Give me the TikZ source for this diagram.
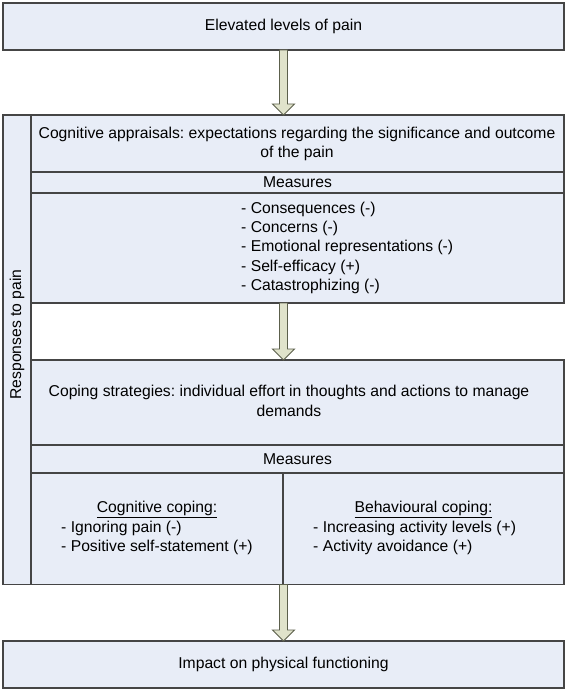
\documentclass[tikz,border=0pt]{standalone}
\usepackage{fontspec}
\setmainfont{Liberation Sans}
\usetikzlibrary{calc}
\frenchspacing
\definecolor{boxfill}{HTML}{E8EDF7}
\definecolor{boxline}{HTML}{454545}
\definecolor{arrfill}{HTML}{E0E3CB}
\definecolor{arrline}{HTML}{5C604C}
\tikzset{
  box/.style={draw=boxline, fill=boxfill, line width=1.3pt, inner sep=0pt, outer sep=0pt,
    font=\fontsize{15.7}{19.2}\selectfont},
  txt/.style={inner sep=0pt, font=\fontsize{15.7}{19.2}\selectfont},
  fatarrow/.style={draw=arrline, fill=arrfill, line width=0.9pt, line join=miter}
}
\newcommand{\fatarr}[2]{%
  \draw[fatarrow] let \p1=(#1), \p2=(#2) in
    (\x1-4pt,\y1) -- (\x1-4pt,\y2+11pt) -- (\x1-11pt,\y2+11pt) -- (\x1,\y2)
    -- (\x1+11pt,\y2+11pt) -- (\x1+4pt,\y2+11pt) -- (\x1+4pt,\y1) -- cycle;}
\begin{document}
\begin{tikzpicture}[x=1pt,y=1pt]
\useasboundingbox (0,0) rectangle (567,-692);
\fill[white] (0,0) rectangle (567,-692);

% boxes
\node[box, minimum width=561pt, minimum height=47pt] (top) at (283.5,-26.5) {Elevated levels of pain};
\node[box, minimum width=28pt, minimum height=469.5pt] (side) at (17,-349.75) {};
\node[txt, rotate=90] (sidetxt) at (17,-334.5) {Responses to pain};

\node[box, minimum width=533pt, minimum height=57pt] (cog) at (297.5,-143.5) {};
\node[txt] (cogtxta) at (297,-134) {Cognitive appraisals: expectations regarding the significance and outcome};
\node[txt] (cogtxtb) at (297,-153) {of the pain};
\node[box, minimum width=533pt, minimum height=21pt] (meas1) at (297.5,-182.5) {Measures};
\node[box, minimum width=533pt, minimum height=110pt] (list) at (297.5,-248) {};
\node[txt, anchor=west] (listtxt) at (241,-248)
  {\begin{tabular}{@{}l@{}}- Consequences (-)\\- Concerns (-)\\- Emotional representations (-)\\- Self-efficacy (+)\\- Catastrophizing (-)\end{tabular}};

\node[box, minimum width=533pt, minimum height=85pt] (coping) at (297.5,-402.5) {};
\node[txt] (copingtxta) at (289,-392.7) {Coping strategies: individual effort in thoughts and actions to manage};
\node[txt] (copingtxtb) at (289,-410.7) {demands};
\node[box, minimum width=533pt, minimum height=28pt] (meas2) at (297.5,-459) {Measures};
\node[box, minimum width=252pt, minimum height=111.5pt] (cogc) at (157,-528.75) {};
\node[box, minimum width=281pt, minimum height=111.5pt] (behc) at (423.5,-528.75) {};
\node[txt] (cogchead) at (157,-509.5) {\underline{Cognitive coping:}};
\node[txt, anchor=west] (cogclist) at (61,-537.8)
  {\begin{tabular}{@{}l@{}}- Ignoring pain (-)\\- Positive self-statement (+)\end{tabular}};
\node[txt] (behchead) at (423.5,-509.5) {\underline{Behavioural coping:}};
\node[txt, anchor=west] (behclist) at (313,-537.8)
  {\begin{tabular}{@{}l@{}}- Increasing activity levels (+)\\- Activity avoidance (+)\end{tabular}};

\node[box, minimum width=561pt, minimum height=47pt] (bottom) at (283.5,-664.5) {Impact on physical functioning};

% arrows
\fatarr{top.south}{top.south |- side.north}
\fatarr{top.south |- list.south}{top.south |- coping.north}
\fatarr{top.south |- cogc.south}{bottom.north}
\end{tikzpicture}
\end{document}
